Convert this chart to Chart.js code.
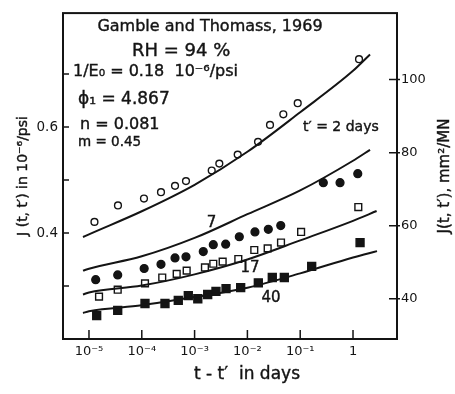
<!DOCTYPE html>
<html>
<head>
<meta charset="utf-8">
<script src="https://cdn.jsdelivr.net/npm/chart.js@4.4.1/dist/chart.umd.min.js"></script>
<style>
  html, body { margin: 0; padding: 0; background: #fff; }
</style>
</head>
<body>
<canvas id="creepChart" width="455" height="394"></canvas>
<script>
// ---------- data ----------
const decades = [1e-5, 1e-4, 1e-3, 1e-2, 1e-1, 1];
const decadeLabels = ['10⁻⁵', '10⁻⁴', '10⁻³', '10⁻²', '10⁻¹', '1'];

const leftTicks = [0.3, 0.4, 0.5, 0.6, 0.7];
const leftLabelled = [0.4, 0.6];
const rightTicks = [40, 60, 80, 100];

// t' = 2 days (open circles)
const t2 = [1.27e-5, 3.54e-5, 1.10e-4, 2.31e-4, 4.26e-4, 6.87e-4, 2.11e-3, 2.94e-3, 6.55e-3, 1.59e-2, 2.68e-2, 4.79e-2, 8.97e-2, 1.30];
const j2 = [0.421, 0.452, 0.465, 0.477, 0.489, 0.498, 0.518, 0.531, 0.548, 0.572, 0.604, 0.624, 0.645, 0.728];

// t' = 7 days (filled circles)
const t7 = [1.34e-5, 3.50e-5, 1.11e-4, 2.31e-4, 4.26e-4, 6.87e-4, 1.46e-3, 2.26e-3, 3.88e-3, 7.03e-3, 1.39e-2, 2.49e-2, 4.28e-2, 0.274, 0.568, 1.23];
const j7 = [0.312, 0.321, 0.333, 0.341, 0.353, 0.355, 0.365, 0.378, 0.379, 0.393, 0.402, 0.407, 0.414, 0.495, 0.495, 0.512];

// t' = 17 days (open squares)
const t17 = [1.55e-5, 3.50e-5, 1.15e-4, 2.44e-4, 4.58e-4, 7.08e-4, 1.57e-3, 2.26e-3, 3.40e-3, 6.73e-3, 1.35e-2, 2.42e-2, 4.33e-2, 0.104, 1.26];
const j17 = [0.280, 0.293, 0.305, 0.316, 0.323, 0.329, 0.335, 0.342, 0.346, 0.351, 0.368, 0.371, 0.382, 0.402, 0.449];

// t' = 40 days (filled squares)
const t40 = [1.40e-5, 3.50e-5, 1.15e-4, 2.75e-4, 4.91e-4, 7.60e-4, 1.15e-3, 1.77e-3, 2.54e-3, 3.94e-3, 7.46e-3, 1.61e-2, 2.96e-2, 5.00e-2, 0.165, 1.36];
const j40 = [0.244, 0.254, 0.267, 0.267, 0.273, 0.282, 0.276, 0.284, 0.290, 0.295, 0.297, 0.306, 0.316, 0.316, 0.337, 0.382];

// fitted curves
const fitT2 = [7.7e-6, 1e-5, 1e-4, 1e-3, 1e-2, 1e-1, 1, 2.1];
const fitJ2 = [0.3925, 0.3976, 0.4411, 0.491, 0.5533, 0.628, 0.706, 0.737];
const fitT7 = [7.7e-6, 1e-5, 1e-4, 1e-3, 1e-2, 1e-1, 1, 2.1];
const fitJ7 = [0.329, 0.3327, 0.356, 0.3907, 0.4355, 0.4804, 0.5364, 0.557];
const fitT17 = [7.7e-6, 1e-5, 1e-4, 1e-3, 1e-2, 1e-1, 1, 2.8];
const fitJ17 = [0.2841, 0.2879, 0.3009, 0.322, 0.350, 0.386, 0.423, 0.4415];
const fitT40 = [7.7e-6, 1e-5, 1e-4, 1e-3, 1e-2, 1e-1, 1, 2.85];
const fitJ40 = [0.2492, 0.2523, 0.2636, 0.2791, 0.2966, 0.3239, 0.3538, 0.3658];

const PSI_TO_MM2_MN = 145.04; // 1e-6/psi -> mm^2/MN

const ink = '#141414';
const FONT = '"DejaVu Sans", sans-serif';

function pts(xs, ys) {
    return xs.map((x, i) => ({ x: x, y: ys[i] }));
}

function curve(xs, ys) {
    return {
        data: pts(xs, ys),
        showLine: true,
        borderColor: ink,
        borderWidth: 2,
        pointRadius: 0,
        cubicInterpolationMode: 'monotone',
        fill: false
    };
}

function marks(xs, ys, style, radius, filled) {
    return {
        data: pts(xs, ys),
        showLine: false,
        pointStyle: style,
        pointRadius: radius,
        pointBorderWidth: 1.4,
        pointBorderColor: ink,
        pointBackgroundColor: filled ? ink : '#fff'
    };
}

// ---------- frame, inner ticks and texts ----------
const decorations = {
    id: 'decorations',
    afterDatasetsDraw(chart) {
        const { ctx, chartArea: a, scales: { x, y, y2 } } = chart;
        ctx.save();
        ctx.strokeStyle = ink;
        ctx.fillStyle = ink;

        ctx.lineWidth = 2;
        ctx.strokeRect(a.left, a.top, a.right - a.left, a.bottom - a.top);

        ctx.lineWidth = 1.5;
        ctx.beginPath();
        x.ticks.forEach(t => {
            const px = x.getPixelForValue(t.value);
            ctx.moveTo(px, a.bottom);
            ctx.lineTo(px, a.bottom - 9);
        });
        y.ticks.forEach(t => {
            const py = y.getPixelForValue(t.value);
            ctx.moveTo(a.left, py);
            ctx.lineTo(a.left + 6, py);
        });
        y2.ticks.forEach(t => {
            const py = y2.getPixelForValue(t.value);
            ctx.moveTo(a.right - 8, py);
            ctx.lineTo(a.right + 3, py);
        });
        ctx.stroke();

        // scanned lettering is heavy: fill plus a thin stroke
        const text = (s, px, py, size, align) => {
            ctx.font = size + 'px ' + FONT;
            ctx.textAlign = align || 'left';
            ctx.textBaseline = 'middle';
            ctx.lineWidth = 0.4;
            ctx.fillText(s, px, py);
            ctx.strokeText(s, px, py);
        };

        // parameter block
        text('Gamble and Thomass, 1969', 210, 27, 16, 'center');
        text('RH = 94 %', 132, 51, 18);
        text('1/E₀ = 0.18  10⁻⁶/psi', 73, 72, 16);
        text('ϕ₁ = 4.867', 78, 100, 17);
        text('n = 0.081', 80, 125, 16);
        text('m = 0.45', 78, 142, 13.5);

        // curve labels, anchored in data units
        text('t′ = 2 days', x.getPixelForValue(0.113), y.getPixelForValue(0.60), 14);
        text('7', x.getPixelForValue(2.1e-3), y.getPixelForValue(0.419), 15, 'center');
        text('17', x.getPixelForValue(1.12e-2), y.getPixelForValue(0.333), 15, 'center');
        text('40', x.getPixelForValue(2.8e-2), y.getPixelForValue(0.277), 15, 'center');

        // axis titles
        text('t - t′  in days', 247, 375, 17, 'center');

        ctx.save();
        ctx.translate(23, 176);
        ctx.rotate(-Math.PI / 2);
        text('J (t, t′) in 10⁻⁶/psi', 0, 0, 14, 'center');
        ctx.restore();

        ctx.save();
        ctx.translate(445, 176);
        ctx.rotate(-Math.PI / 2);
        text('J(t, t′), mm²/MN', 0, 0, 15, 'center');
        ctx.restore();

        ctx.restore();
    }
};

Chart.defaults.font.family = FONT;
Chart.defaults.color = ink;

const yMin = 0.2;
const yMax = 0.815;

new Chart(document.getElementById('creepChart'), {
    type: 'scatter',
    data: {
        datasets: [
            curve(fitT2, fitJ2),
            curve(fitT7, fitJ7),
            curve(fitT17, fitJ17),
            curve(fitT40, fitJ40),
            marks(t2, j2, 'circle', 3.4, false),
            marks(t7, j7, 'circle', 3.9, true),
            marks(t17, j17, 'rect', 4.8, false),
            marks(t40, j40, 'rect', 5.6, true)
        ]
    },
    options: {
        responsive: false,
        animation: false,
        layout: { padding: { top: 10, left: 0, right: 0, bottom: 0 } },
        plugins: {
            legend: { display: false },
            tooltip: { enabled: false }
        },
        scales: {
            x: {
                type: 'logarithmic',
                min: Math.pow(10, -5.492),
                max: Math.pow(10, 0.833),
                afterBuildTicks: s => { s.ticks = decades.map(v => ({ value: v })); },
                afterFit: s => { s.height = 55; },
                ticks: {
                    autoSkip: false,
                    maxRotation: 0,
                    padding: 5,
                    font: { size: 13 },
                    callback: v => {
                        const i = decades.findIndex(d => Math.abs(Math.log10(d) - Math.log10(v)) < 1e-6);
                        return i >= 0 ? decadeLabels[i] : '';
                    }
                },
                grid: { display: false, drawTicks: false },
                border: { display: false }
            },
            y: {
                type: 'linear',
                position: 'left',
                min: yMin,
                max: yMax,
                afterBuildTicks: s => { s.ticks = leftTicks.map(v => ({ value: v })); },
                afterFit: s => { s.width = 63; },
                ticks: {
                    autoSkip: false,
                    padding: 5,
                    font: { size: 13.5 },
                    callback: v => leftLabelled.some(l => Math.abs(l - v) < 1e-6) ? v.toFixed(1) : ''
                },
                grid: { display: false, drawTicks: false },
                border: { display: false }
            },
            y2: {
                type: 'linear',
                position: 'right',
                min: yMin * PSI_TO_MM2_MN,
                max: yMax * PSI_TO_MM2_MN,
                afterBuildTicks: s => { s.ticks = rightTicks.map(v => ({ value: v })); },
                afterFit: s => { s.width = 58; },
                ticks: {
                    autoSkip: false,
                    padding: 4,
                    font: { size: 13 }
                },
                grid: { display: false, drawTicks: false },
                border: { display: false }
            }
        }
    },
    plugins: [decorations]
});
</script>
</body>
</html>
